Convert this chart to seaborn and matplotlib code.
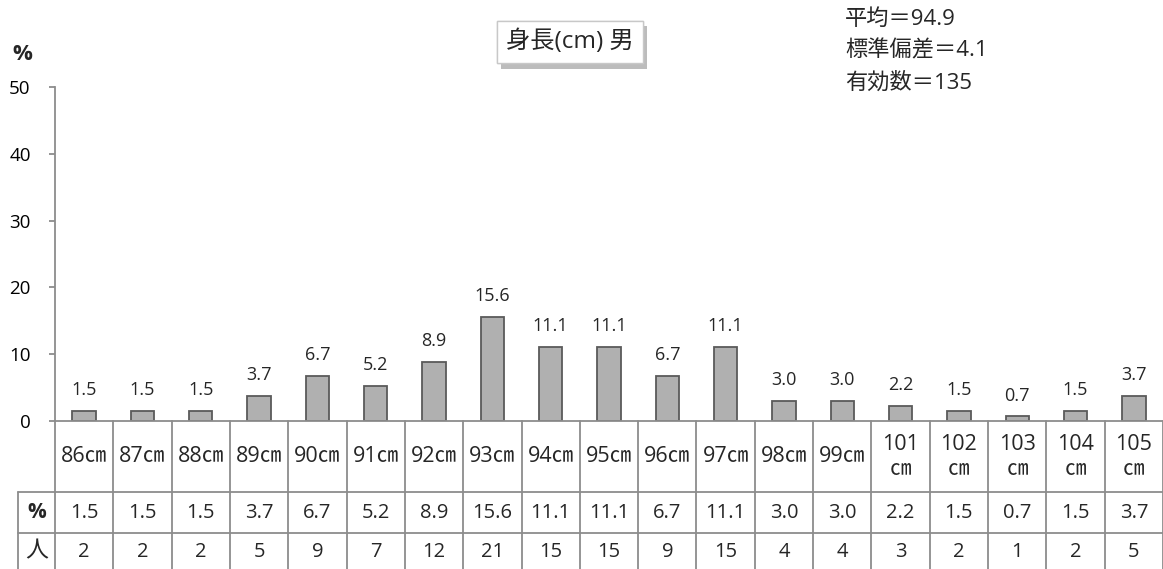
import matplotlib
matplotlib.use("Agg")
import matplotlib.pyplot as plt
import matplotlib.patheffects as pe
import matplotlib.transforms as mtransforms
import seaborn as sns
import pandas as pd

categories = ["86㎝", "87㎝", "88㎝", "89㎝", "90㎝", "91㎝", "92㎝", "93㎝", "94㎝", "95㎝",
              "96㎝", "97㎝", "98㎝", "99㎝", "101\n㎝", "102\n㎝", "103\n㎝", "104\n㎝", "105\n㎝"]
percents = [1.5, 1.5, 1.5, 3.7, 6.7, 5.2, 8.9, 15.6, 11.1, 11.1, 6.7, 11.1, 3.0, 3.0, 2.2, 1.5, 0.7, 1.5, 3.7]
counts = [2, 2, 2, 5, 9, 7, 12, 21, 15, 15, 9, 15, 4, 4, 3, 2, 1, 2, 5]
yticks = [0, 10, 20, 30, 40, 50]
title = "身長(cm) 男"
stats = ["平均＝94.9", "標準偏差＝4.1", "有効数＝135"]

sns.set_theme(style="white")
plt.rcParams['font.family'] = ['Open Sans', 'Noto Sans CJK JP', 'DejaVu Sans']

W, H = 1163, 569
fig = plt.figure(figsize=(W / 100, H / 100), dpi=100)
ax_left, ax_right, ax_top, ax_bot = 55, 1163, 87, 421
ax = fig.add_axes([ax_left / W, (H - ax_bot) / H, (ax_right - ax_left) / W, (ax_bot - ax_top) / H])

df = pd.DataFrame({"cat": categories, "pct": percents})
sns.barplot(data=df, x="cat", y="pct", ax=ax, color="#b0b0b0", saturation=1,
            width=0.4, edgecolor="#5a5a5a", linewidth=1.3)

ax.set_xlim(-0.5, len(categories) - 0.5)
ax.set_ylim(0, 50)
ax.set_yticks(yticks)
ax.set_yticklabels([str(v) for v in yticks], fontsize=13.5)
ax.set_xticks([])
ax.set_xlabel("")
ax.set_ylabel("")
for s in ["top", "right"]:
    ax.spines[s].set_visible(False)
for s in ["left", "bottom"]:
    ax.spines[s].set_color("#8c8c8c")
    ax.spines[s].set_linewidth(1.3)
ax.tick_params(axis="y", left=True, length=4.5, width=1.3, color="#8c8c8c", pad=13, labelcolor="black")

# bar value labels
for i, v in enumerate(percents):
    ax.annotate(f"{v:.1f}", (i, v), xytext=(0, 8.5), textcoords="offset points",
                ha="center", va="bottom", fontsize=13)

# table below axis
trans = mtransforms.blended_transform_factory(ax.transData, ax.transAxes)
ah = ax_bot - ax_top
def yf(py):
    return (ax_bot - py) / ah
cw = (ax_right - ax_left) / len(categories)
xhdr = -0.5 - (ax_left - 18) / cw
lc = "#8c8c8c"
lw = 1.3
y_cat_bot, y_pct_bot, y_bottom = yf(492), yf(533), yf(575)
for i in range(len(categories) + 1):
    ax.plot([i - 0.5, i - 0.5], [0, y_bottom], transform=trans, color=lc, lw=lw, clip_on=False)
ax.plot([xhdr, xhdr], [y_cat_bot, y_bottom], transform=trans, color=lc, lw=lw, clip_on=False)
for yy in [y_cat_bot, y_pct_bot]:
    ax.plot([xhdr, len(categories) - 0.5], [yy, yy], transform=trans, color=lc, lw=lw, clip_on=False)

for i, c in enumerate(categories):
    ax.text(i, yf(457), c, transform=trans, ha="center", va="center", fontsize=15.5,
            linespacing=1.3, clip_on=False)
    ax.text(i, yf(513), f"{percents[i]:.1f}", transform=trans, ha="center", va="center",
            fontsize=14.5, clip_on=False)
    ax.text(i, yf(552), str(counts[i]), transform=trans, ha="center", va="center",
            fontsize=14.5, clip_on=False)
ax.text((xhdr - 0.5) / 2, yf(512), "%", transform=trans, ha="center", va="center",
        fontsize=15, fontweight="bold", clip_on=False)
ax.text((xhdr - 0.5) / 2, yf(551), "人", transform=trans, ha="center", va="center",
        fontsize=16.5, clip_on=False)

# percent label
fig.text(22 / W, 1 - 55 / H, "%", ha="center", va="center", fontsize=16, fontweight="bold")

# title box
t = fig.text(570 / W, 1 - 42 / H, title, ha="center", va="center", fontsize=17.5,
             bbox=dict(boxstyle="square,pad=0.38", facecolor="white", edgecolor="#c8c8c8", linewidth=1))
t.get_bbox_patch().set_path_effects([pe.withSimplePatchShadow(offset=(3, -4), shadow_rgbFace="#909090", alpha=0.6),
                                     pe.Normal()])

# stats
for k, s in enumerate(stats):
    fig.text(845 / W, 1 - (19 + 32 * k) / H, s, ha="left", va="center", fontsize=16)

fig.savefig("out.png", dpi=100)
